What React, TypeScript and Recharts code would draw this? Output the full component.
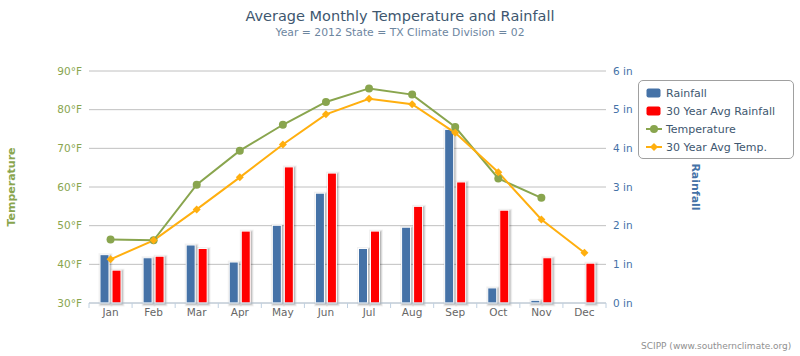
import React from 'react'
import {
  ComposedChart,
  Bar,
  Line,
  XAxis,
  YAxis,
  CartesianGrid,
  Legend,
} from 'recharts'

const months = ['Jan', 'Feb', 'Mar', 'Apr', 'May', 'Jun', 'Jul', 'Aug', 'Sep', 'Oct', 'Nov', 'Dec']
// inches
const rainfall = [1.25, 1.17, 1.5, 1.06, 2.01, 2.84, 1.41, 1.96, 4.49, 0.39, 0.07, null]
const avgRainfall = [0.85, 1.21, 1.41, 1.86, 3.52, 3.36, 1.86, 2.5, 3.13, 2.4, 1.17, 1.03]
// deg F
const temperature = [46.4, 46.2, 60.6, 69.4, 76.1, 82.0, 85.5, 83.9, 75.5, 62.2, 57.2, null]
const avgTemp = [41.3, 46.2, 54.2, 62.5, 71.0, 78.8, 82.8, 81.4, 74.0, 63.8, 51.6, 43.0]

const tempTicks = [30, 40, 50, 60, 70, 80, 90]
const rainTicks = [0, 1, 2, 3, 4, 5, 6]

const FONT = '"DejaVu Sans", sans-serif'
const BLUE = '#4572A7'
const RED = '#FF0000'
const GREEN = '#89A54E'
const ORANGE = '#FFAF0F'

const data = months.map((month, i) => ({
  month,
  rainfall: rainfall[i],
  avgRainfall: avgRainfall[i],
  temperature: temperature[i],
  avgTemp: avgTemp[i],
}))

const BAND = 517 / 12

// column with a soft highcharts-like shadow
const ShadowBar = (props: any) => {
  const { x, y, width, height, fill } = props
  if (height == null || height <= 0) return null
  return (
    <g>
      <rect x={x + 1} y={y + 1} width={width} height={height} fill="none" stroke="#000" strokeOpacity={0.05} strokeWidth={5} />
      <rect x={x + 1} y={y + 1} width={width} height={height} fill="none" stroke="#000" strokeOpacity={0.1} strokeWidth={3} />
      <rect x={x + 1} y={y + 1} width={width} height={height} fill="none" stroke="#000" strokeOpacity={0.15} strokeWidth={1} />
      <rect x={x} y={y} width={width} height={height} fill={fill} stroke="#fff" strokeWidth={1} />
    </g>
  )
}

const Diamond = (props: any) => {
  const { cx, cy, index } = props
  if (cx == null || cy == null) return <g key={index} />
  const r = 4
  return (
    <path
      key={index}
      d={`M${cx},${cy - r} L${cx + r},${cy} L${cx},${cy + r} L${cx - r},${cy} Z`}
      fill={ORANGE}
    />
  )
}

const MonthTick = (props: any) => {
  const { x, y, payload, index } = props
  return (
    <g>
      {index === 0 && (
        <line x1={x - BAND / 2} y1={y} x2={x - BAND / 2} y2={y + 5} stroke="#C0D0E0" />
      )}
      <line x1={x + BAND / 2} y1={y} x2={x + BAND / 2} y2={y + 5} stroke="#C0D0E0" />
      <text x={x} y={y + 12.5} textAnchor="middle" fill="#666" fontSize={10.5} fontFamily={FONT}>
        {payload.value}
      </text>
    </g>
  )
}

const legendItems = [
  { label: 'Rainfall', color: BLUE, kind: 'box' },
  { label: '30 Year Avg Rainfall', color: RED, kind: 'box' },
  { label: 'Temperature', color: GREEN, kind: 'circle' },
  { label: '30 Year Avg Temp.', color: ORANGE, kind: 'diamond' },
]

const LegendBox = () => (
  <div
    style={{
      boxSizing: 'border-box',
      width: 156,
      height: 79,
      border: '1px solid #A0A0A0',
      borderRadius: 5,
      background: '#fff',
      padding: '3px 0 0 7px',
      fontFamily: FONT,
      fontSize: 11,
      color: '#3E576F',
    }}
  >
    {legendItems.map((it) => (
      <div key={it.label} style={{ display: 'flex', alignItems: 'center', height: 18 }}>
        <svg width={19} height={12} style={{ marginRight: 1 }}>
          {it.kind === 'box' && <rect x={0.5} y={1.5} width={14} height={9} rx={2} fill={it.color} />}
          {it.kind !== 'box' && <line x1={0} y1={6} x2={16} y2={6} stroke={it.color} strokeWidth={2} />}
          {it.kind === 'circle' && <circle cx={8} cy={6} r={4} fill={it.color} />}
          {it.kind === 'diamond' && <path d="M8,2 L12,6 L8,10 L4,6 Z" fill={it.color} />}
        </svg>
        <span>{it.label}</span>
      </div>
    ))}
  </div>
)

export default function App() {
  return (
    <div style={{ position: 'absolute', left: 0, top: 0, width: 800, height: 356, background: '#fff', fontFamily: FONT }}>
      <div style={{ position: 'absolute', top: 8, width: 800, textAlign: 'center', fontSize: 14.5, color: '#3E576F' }}>
        Average Monthly Temperature and Rainfall
      </div>
      <div style={{ position: 'absolute', top: 26, width: 800, textAlign: 'center', fontSize: 10.8, color: '#6D869F' }}>
        Year = 2012 State = TX Climate Division = 02
      </div>
      <ComposedChart
        width={800}
        height={356}
        data={data}
        margin={{ top: 71, right: 134, left: 0, bottom: 0 }}
        barGap={3}
        barSize={9}
      >
        <CartesianGrid yAxisId="temp" vertical={false} stroke="#C0C0C0" />
        <XAxis
          dataKey="month"
          height={53}
          stroke="#C0D0E0"
          tickLine={false}
          tickSize={0}
          tickMargin={0}
          tick={<MonthTick />}
          interval={0}
        />
        <YAxis
          yAxisId="temp"
          width={89}
          domain={[30, 90]}
          ticks={tempTicks}
          tickFormatter={(v) => `${v}°F`}
          axisLine={false}
          tickLine={false}
          tickSize={0}
          tickMargin={7}
          tick={{ fill: GREEN, fontSize: 10.5, fontFamily: FONT }}
          label={{
            value: 'Temperature',
            angle: -90,
            position: 'insideLeft',
            offset: 11,
            style: { fill: GREEN, fontWeight: 'bold', fontSize: 11, fontFamily: FONT, textAnchor: 'middle' },
          }}
        />
        <YAxis
          yAxisId="rain"
          orientation="right"
          width={60}
          domain={[0, 6]}
          ticks={rainTicks}
          tickFormatter={(v) => `${v} in`}
          axisLine={false}
          tickLine={false}
          tickSize={0}
          tickMargin={7}
          tick={{ fill: BLUE, fontSize: 10.5, fontFamily: FONT, textAnchor: 'start' }}
        />
        <Bar yAxisId="rain" dataKey="rainfall" fill={BLUE} shape={<ShadowBar />} isAnimationActive={false} />
        <Bar yAxisId="rain" dataKey="avgRainfall" fill={RED} shape={<ShadowBar />} isAnimationActive={false} />
        <Line
          yAxisId="temp"
          dataKey="temperature"
          stroke={GREEN}
          strokeWidth={2}
          dot={{ r: 4, fill: GREEN, stroke: GREEN, strokeWidth: 0 }}
          activeDot={false}
          connectNulls={false}
          isAnimationActive={false}
        />
        <Line
          yAxisId="temp"
          dataKey="avgTemp"
          stroke={ORANGE}
          strokeWidth={2}
          dot={<Diamond />}
          activeDot={false}
          isAnimationActive={false}
        />
        <Legend
          layout="vertical"
          align="center"
          verticalAlign="middle"
          content={() => <LegendBox />}
          wrapperStyle={{ position: 'absolute', left: 638, top: 80, width: 156, height: 79 }}
        />
      </ComposedChart>
      <div
        style={{
          position: 'absolute',
          left: 695,
          top: 187,
          transform: 'translate(-50%, -50%) rotate(90deg)',
          fontSize: 11,
          fontWeight: 'bold',
          color: BLUE,
          whiteSpace: 'nowrap',
        }}
      >
        Rainfall
      </div>
      <div style={{ position: 'absolute', left: 641, top: 341, fontSize: 9, color: '#909090', whiteSpace: 'nowrap' }}>
        SCIPP (www.southernclimate.org)
      </div>
    </div>
  )
}
